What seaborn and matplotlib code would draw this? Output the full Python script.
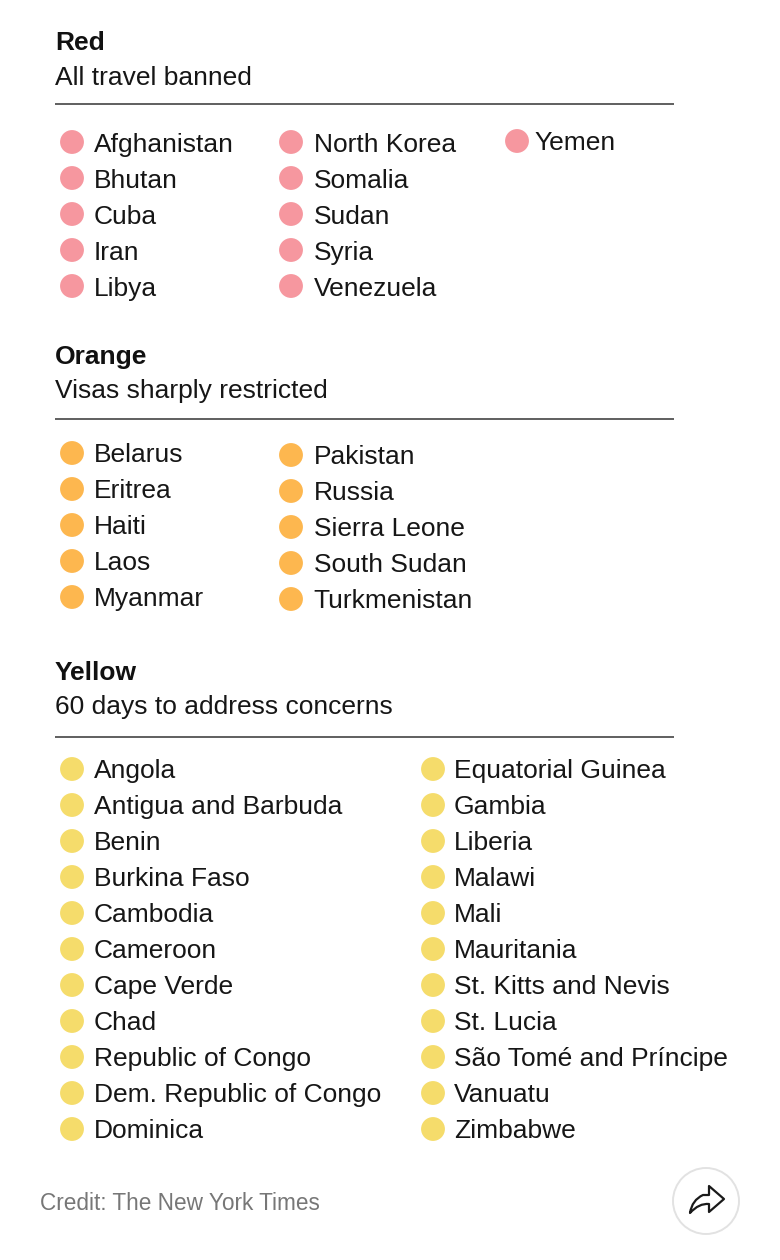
import matplotlib
matplotlib.use("Agg")
import matplotlib.pyplot as plt
from matplotlib.patches import Circle, PathPatch
from matplotlib.path import Path
import pandas as pd
import seaborn as sns

sns.set_theme(style="white")
plt.rcParams["font.family"] = ["Liberation Sans", "DejaVu Sans"]

group_names = ["Red", "Orange", "Yellow"]
group_notes = ["All travel banned", "Visas sharply restricted", "60 days to address concerns"]
group_colors = ["#F6979F", "#FDB74F", "#F5DC6B"]
red_countries = [["Afghanistan", "Bhutan", "Cuba", "Iran", "Libya"],
                 ["North Korea", "Somalia", "Sudan", "Syria", "Venezuela"],
                 ["Yemen"]]
orange_countries = [["Belarus", "Eritrea", "Haiti", "Laos", "Myanmar"],
                    ["Pakistan", "Russia", "Sierra Leone", "South Sudan", "Turkmenistan"]]
yellow_countries = [["Angola", "Antigua and Barbuda", "Benin", "Burkina Faso", "Cambodia", "Cameroon",
                     "Cape Verde", "Chad", "Republic of Congo", "Dem. Republic of Congo", "Dominica"],
                    ["Equatorial Guinea", "Gambia", "Liberia", "Malawi", "Mali", "Mauritania",
                     "St. Kitts and Nevis", "St. Lucia", "São Tomé and Príncipe", "Vanuatu", "Zimbabwe"]]
credit = "Credit: The New York Times"

W, H = 780, 1260
fig = plt.figure(figsize=(W / 100, H / 100), dpi=100, facecolor="white")
ax = fig.add_axes([0, 0, 1, 1])

# each column: dot x, dot y of first row, label x, label y of first row
layouts = [
    dict(head=43, note=78, rule=104, cols=[(72, 142, 93.5, 145), (291, 142, 313.5, 145), (517, 141, 534, 143)]),
    dict(head=357, note=391, rule=419, cols=[(72, 453, 93.5, 455), (291, 455, 313.5, 457)]),
    dict(head=673, note=707, rule=737, cols=[(72, 769, 93.5, 771), (433, 769, 454, 771)]),
]
groups = [red_countries, orange_countries, yellow_countries]
STEP = 36
FS = 19.0

rows = []
for gi, (cols, lay) in enumerate(zip(groups, layouts)):
    for ci, names in enumerate(cols):
        x0, y0, tx, ty = lay["cols"][ci]
        for ri, name in enumerate(names):
            rows.append(dict(group=group_names[gi], country=name, x=x0, y=y0 + ri * STEP,
                             tx=tx, ty=ty + ri * STEP))
df = pd.DataFrame(rows)

sns.scatterplot(data=df, x="x", y="y", hue="group", hue_order=group_names,
                palette=group_colors, s=295, linewidth=0, legend=False, ax=ax, zorder=3)

ax.set_xlim(0, W)
ax.set_ylim(H, 0)
ax.axis("off")

for r in df.itertuples():
    ax.text(r.tx, r.ty, r.country, fontsize=FS, color="#161616", va="center", ha="left")

for name, note, lay in zip(group_names, group_notes, layouts):
    ax.text(55, lay["head"], name, fontsize=FS, fontweight="bold", color="#111111", va="center")
    ax.text(55, lay["note"], note, fontsize=FS, color="#161616", va="center")
    ax.plot([55, 674], [lay["rule"]] * 2, color="#444444", lw=1.2, solid_capstyle="butt")

ax.text(40, 1204, credit, fontsize=16.3, color="#777777", va="center")

ax.add_patch(Circle((706, 1201), 33, fill=False, ec="#E2E2E2", lw=1.4))
arrow = Path([(690, 1213), (692, 1200), (703, 1195), (709, 1195), (709, 1186), (724, 1199),
              (709, 1212), (709, 1204), (699, 1203), (690, 1213), (690, 1213)],
             [Path.MOVETO, Path.CURVE3, Path.CURVE3, Path.LINETO, Path.LINETO, Path.LINETO,
              Path.LINETO, Path.LINETO, Path.CURVE3, Path.CURVE3, Path.CLOSEPOLY])
ax.add_patch(PathPatch(arrow, fill=False, ec="#1a1a1a", lw=1.6, joinstyle="round"))

fig.savefig("out.png", dpi=100, facecolor="white")
